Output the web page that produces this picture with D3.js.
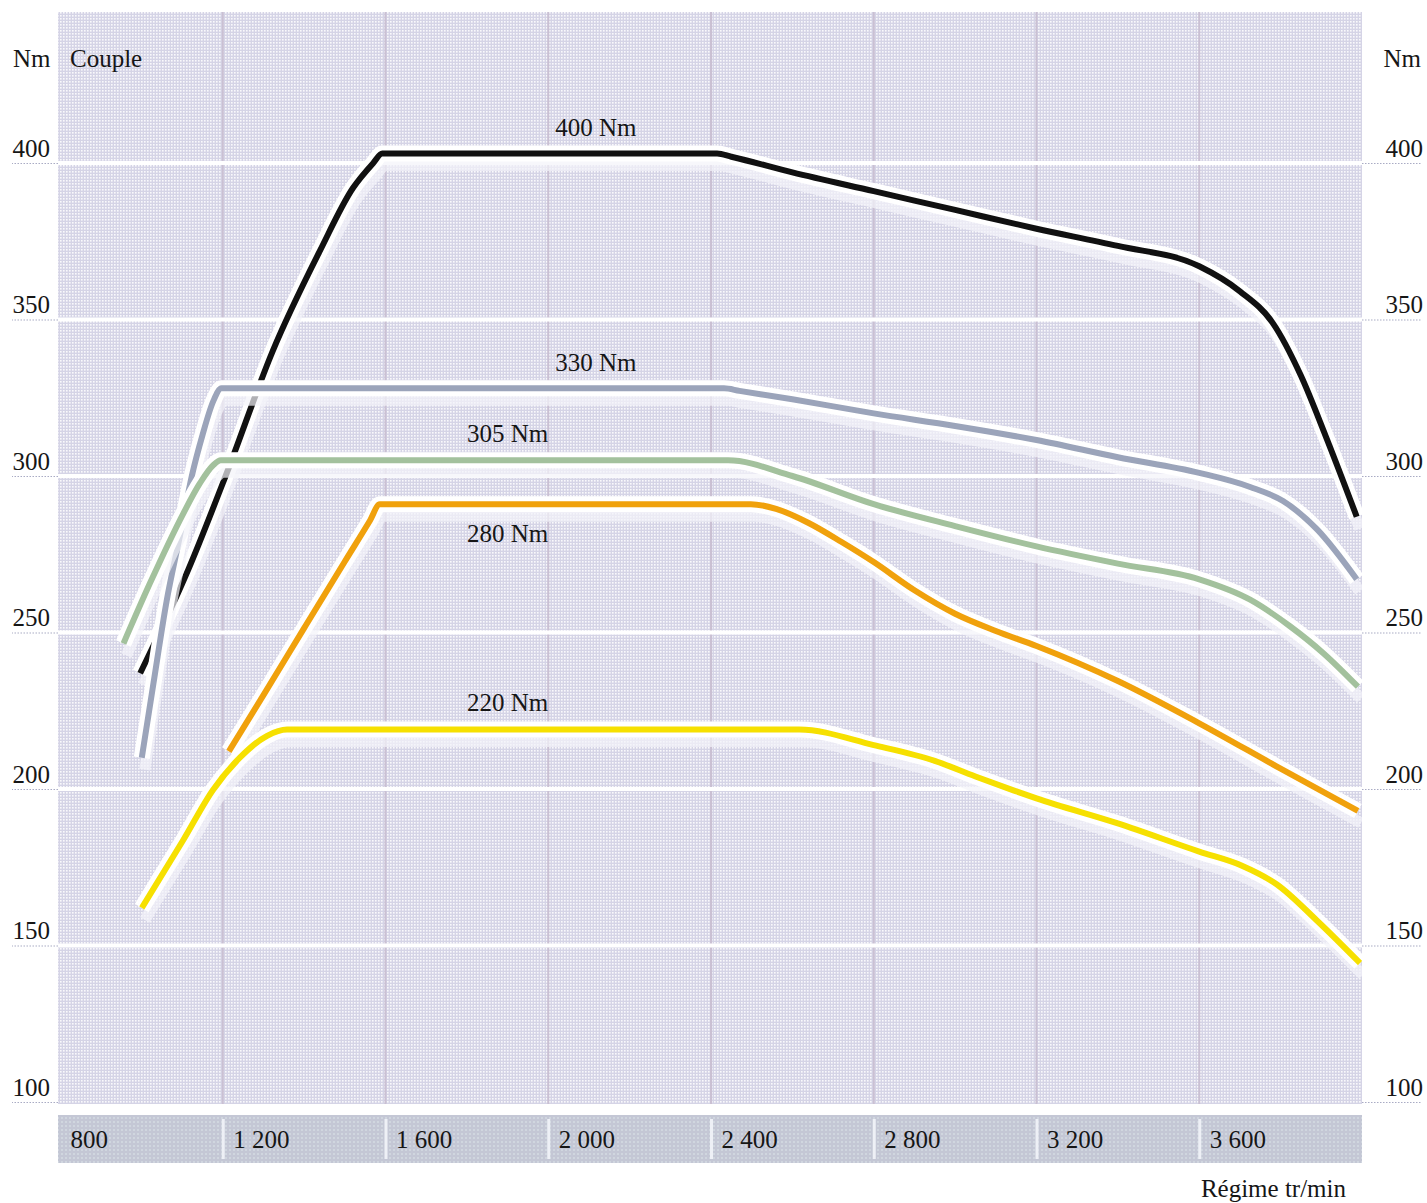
<!DOCTYPE html>
<html lang="fr">
<head>
<meta charset="UTF-8">
<title>Couple</title>
<script src="https://d3js.org/d3.v7.min.js"></script>
<style>
    body { margin: 0; background: #fff; }
    svg { display: block; }
    .lbl { font-family: "Liberation Serif", serif; font-size: 25px; fill: #161616; }
</style>
</head>
<body>
<svg id="chart" width="1427" height="1203"></svg>
<script>
    // engine speed ticks (tr/min) and torque ticks (Nm)
    const rpmTicks = [800, 1200, 1600, 2000, 2400, 2800, 3200, 3600];
    const rpmTickLabels = ["800", "1 200", "1 600", "2 000", "2 400", "2 800", "3 200", "3 600"];
    const nmTicks = [100, 150, 200, 250, 300, 350, 400];

    // curves
    const rpm400 = [997, 1115, 1210, 1323, 1439, 1520, 1570, 1592, 2415, 2450, 2600, 2800, 3000, 3200, 3400, 3600, 3700, 3780, 3850, 3910, 3987];
    const nm400 = [237, 270, 301, 340, 372, 392, 400, 403, 403, 402, 397, 391, 385, 379, 373.5, 367, 359, 349, 332, 313, 287];

    const rpm330 = [1001, 1030, 1062, 1095, 1124, 1150, 1177, 1197, 2432, 2470, 2600, 2800, 3000, 3200, 3400, 3600, 3725, 3806, 3889, 3987];
    const nm330 = [210, 234, 260, 281, 300, 313, 324, 328, 328, 327.2, 324.5, 320, 316, 311.5, 306, 301, 296.5, 292, 283, 267];

    const rpm305 = [956, 1021, 1103, 1144, 1177, 1195, 2442, 2600, 2800, 3000, 3200, 3400, 3600, 3725, 3823, 3905, 3990];
    const nm305 = [246.5, 265.7, 288, 297.7, 303.5, 305, 305, 300, 291, 284, 277.5, 272, 267, 260.5, 252, 243.4, 232.7];

    const rpm280 = [1215, 1300, 1400, 1500, 1562, 1586, 2498, 2560, 2640, 2720, 2800, 2900, 3000, 3100, 3200, 3400, 3600, 3800, 3990];
    const nm280 = [212, 230, 251.4, 272.7, 285.8, 291, 291, 289.5, 285, 279, 272.5, 263.5, 256, 250.5, 245.7, 234.5, 221, 206.5, 193];

    const rpm220 = [1001, 1103, 1176, 1242, 1309, 1358, 2617, 2800, 2950, 3050, 3145, 3200, 3400, 3600, 3705, 3791, 3889, 3995];
    const nm220 = [162, 183.7, 199.7, 210, 217, 219, 219, 214, 209, 204, 199.5, 197, 189, 180, 175.5, 169.5, 158, 144.4];

    const seriesNames = ["400 Nm", "330 Nm", "305 Nm", "280 Nm", "220 Nm"];
    const seriesColors = ["#111111", "#9ba4ba", "#a3c19d", "#f0a10c", "#f6e000"];
    const labelRpm = [2117, 2117, 1900, 1900, 1900];
    const labelNm = [408.5, 333.5, 311, 279, 225];

    const svg = d3.select("#chart");

    const x = d3.scaleLinear().domain([800, 4000]).range([60, 1362]);
    const y = d3.scaleLinear().domain([100, 400]).range([1102, 163]);

    const plotTop = 12, plotBottom = 1104;
    const left = x(800) - 2, right = x(4000);

    // background textures
    const defs = svg.append("defs");
    const dots = defs.append("pattern").attr("id", "dots")
        .attr("width", 3).attr("height", 3).attr("patternUnits", "userSpaceOnUse");
    dots.append("rect").attr("width", 3).attr("height", 3).attr("fill", "#d5d4e6");
    dots.append("rect").attr("width", 1.6).attr("height", 1.6).attr("fill", "#fff").attr("opacity", 0.85);

    const band = defs.append("pattern").attr("id", "band")
        .attr("width", 4).attr("height", 4).attr("patternUnits", "userSpaceOnUse");
    band.append("rect").attr("width", 4).attr("height", 4).attr("fill", "#c4c7d5");
    band.append("rect").attr("x", 1).attr("y", 1).attr("width", 2).attr("height", 2).attr("fill", "#d0d6df");

    defs.append("clipPath").attr("id", "plotClip")
        .append("rect").attr("x", left).attr("y", plotTop)
        .attr("width", right - left).attr("height", plotBottom - plotTop);

    svg.append("rect")
        .attr("x", left).attr("y", plotTop)
        .attr("width", right - left).attr("height", plotBottom - plotTop)
        .attr("fill", "url(#dots)");

    // vertical grid
    svg.append("g").selectAll("line")
        .data(rpmTicks.slice(1))
        .join("line")
        .attr("x1", d => x(d)).attr("x2", d => x(d))
        .attr("y1", plotTop).attr("y2", plotBottom)
        .attr("stroke", "#cac0d3").attr("stroke-width", 2);

    // horizontal grid (white)
    svg.append("g").selectAll("line")
        .data(nmTicks.slice(1))
        .join("line")
        .attr("x1", left).attr("x2", right)
        .attr("y1", d => y(d)).attr("y2", d => y(d))
        .attr("stroke", "#fff").attr("stroke-width", 4);

    // left and right torque axes
    const yLeft = svg.append("g")
        .attr("transform", `translate(${left},0)`)
        .call(d3.axisLeft(y).tickValues(nmTicks).tickSize(left - 12).tickFormat(d3.format("d")));
    const yRight = svg.append("g")
        .attr("transform", `translate(${right},0)`)
        .call(d3.axisRight(y).tickValues(nmTicks).tickSize(60).tickFormat(d3.format("d")));

    [yLeft, yRight].forEach(g => {
        g.attr("font-family", null).attr("font-size", null);
        g.select(".domain").remove();
        g.selectAll(".tick line")
            .attr("stroke", "#a9abc4").attr("stroke-width", 1.2)
            .attr("stroke-dasharray", "1.5,1.5");
        g.selectAll(".tick text")
            .attr("class", "lbl").attr("fill", null)
            .attr("dy", null).attr("y", -7)
            .attr("text-anchor", "end");
    });
    yLeft.selectAll(".tick text").attr("x", 50 - left);
    yRight.selectAll(".tick text").attr("x", 1423 - right);

    // rpm band at the bottom
    svg.append("rect")
        .attr("x", left).attr("y", 1115)
        .attr("width", right - left).attr("height", 48)
        .attr("fill", "url(#band)");

    const xAxis = svg.append("g")
        .attr("transform", "translate(0,1115)")
        .call(d3.axisBottom(x).tickValues(rpmTicks).tickSize(0)
            .tickFormat((d, i) => rpmTickLabels[i]));
    xAxis.attr("font-family", null).attr("font-size", null);
    xAxis.select(".domain").remove();
    xAxis.selectAll(".tick line").remove();
    xAxis.selectAll(".tick").filter(d => d > 800)
        .append("line")
        .attr("y1", 4).attr("y2", 44)
        .attr("stroke", "#eef0f6").attr("stroke-width", 3);
    xAxis.selectAll(".tick text")
        .attr("class", "lbl").attr("fill", null)
        .attr("dy", null).attr("y", 33).attr("x", 10)
        .attr("text-anchor", "start");

    // curves: drawn in order, each one with a white halo and a soft shadow
    const series = [
        { rpm: rpm400, nm: nm400 },
        { rpm: rpm330, nm: nm330 },
        { rpm: rpm305, nm: nm305 },
        { rpm: rpm280, nm: nm280 },
        { rpm: rpm220, nm: nm220 }
    ];

    const line = d3.line()
        .x(d => x(d[0]))
        .y(d => y(d[1]))
        .curve(d3.curveMonotoneX);

    const curves = svg.append("g").attr("clip-path", "url(#plotClip)");
    series.forEach((s, i) => {
        const pts = d3.zip(s.rpm, s.nm);
        const g = curves.append("g");
        g.append("path")
            .attr("d", line(pts))
            .attr("transform", "translate(3,12)")
            .attr("fill", "none")
            .attr("stroke", "#f3f4f9").attr("stroke-width", 11)
            .attr("stroke-opacity", 0.7)
            .attr("stroke-linejoin", "round");
        g.append("path")
            .attr("d", line(pts))
            .attr("fill", "none")
            .attr("stroke", "#fff").attr("stroke-width", 16)
            .attr("stroke-linejoin", "round");
        g.append("path")
            .attr("d", line(pts))
            .attr("fill", "none")
            .attr("stroke", seriesColors[i]).attr("stroke-width", 6)
            .attr("stroke-linejoin", "round");
    });

    // curve labels
    svg.append("g").selectAll("text")
        .data(seriesNames)
        .join("text")
        .attr("class", "lbl")
        .attr("x", (d, i) => x(labelRpm[i]))
        .attr("y", (d, i) => y(labelNm[i]))
        .attr("text-anchor", "middle")
        .text(d => d);

    // titles
    svg.append("text").attr("class", "lbl").attr("x", 13).attr("y", 67).text("Nm");
    svg.append("text").attr("class", "lbl").attr("x", 70).attr("y", 67).text("Couple");
    svg.append("text").attr("class", "lbl").attr("x", 1421).attr("y", 67)
        .attr("text-anchor", "end").text("Nm");
    svg.append("text").attr("class", "lbl").attr("x", 1346).attr("y", 1197)
        .attr("text-anchor", "end").text("Régime tr/min");
</script>
</body>
</html>
